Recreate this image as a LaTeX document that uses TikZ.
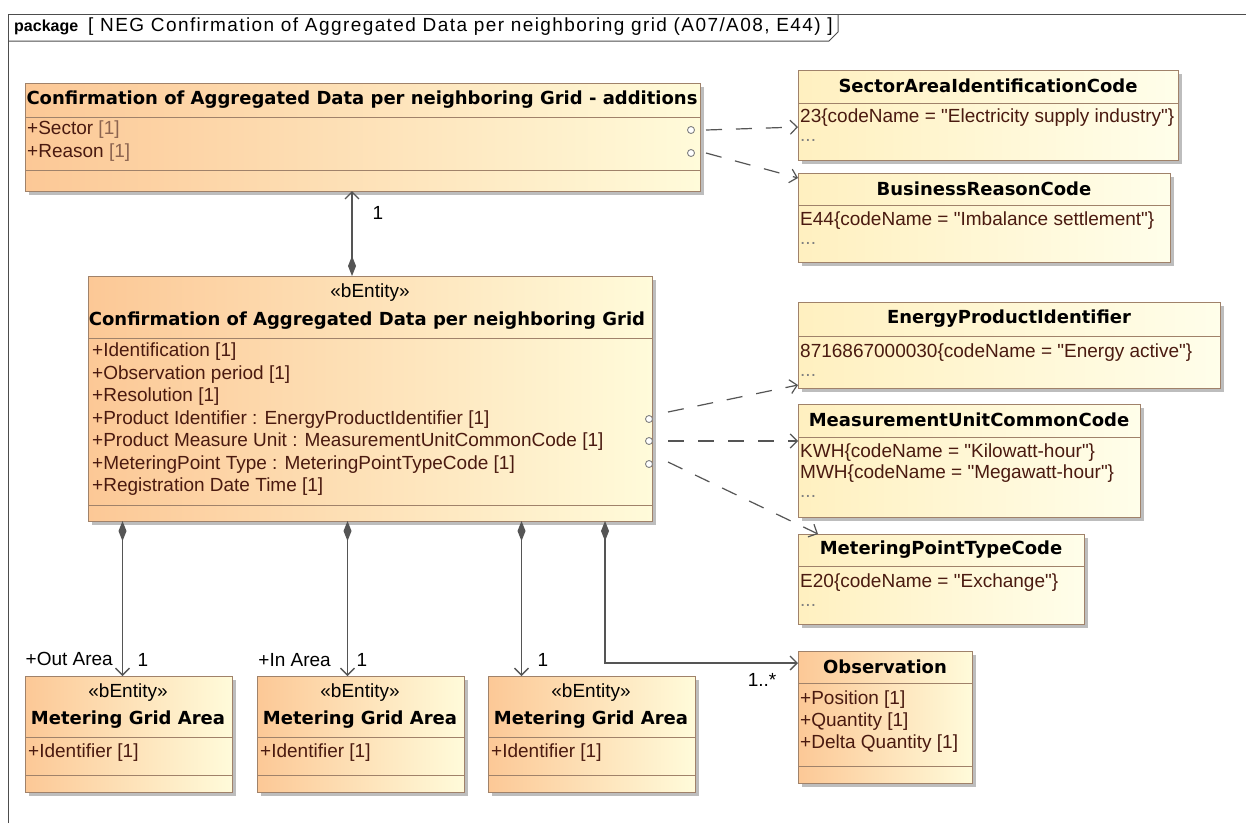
\documentclass[tikz,border=0pt]{standalone}
\usepackage{fontspec}
\setmainfont{Liberation Sans}
\newfontfamily\hdfont{DejaVu Sans}
\usetikzlibrary{arrows.meta,shadows}
\definecolor{umlBorder}{HTML}{A0826A}
\definecolor{umlOrange}{HTML}{FCC896}
\definecolor{umlCream}{HTML}{FFFBDA}
\definecolor{codeLeft}{HTML}{FFF0C0}
\definecolor{codeRight}{HTML}{FFFEEA}
\definecolor{umlText}{HTML}{4A1A10}
\definecolor{umlMult}{HTML}{8C6450}
\definecolor{umlLine}{HTML}{555555}
\definecolor{umlShadow}{HTML}{BDBDBD}
\definecolor{umlFrame}{HTML}{4D4D4D}
\newcommand{\umltitle}{\hdfont\bfseries\fontsize{18}{20}\selectfont}
\newcommand{\umltext}{\fontsize{19}{22}\selectfont}
\newcommand{\q}{\textquotedbl}

\tikzset{
  cls/.style={draw=umlBorder, line width=1pt, left color=umlOrange, right color=umlCream,
    anchor=north west, inner sep=0pt, outer sep=0pt,
    drop shadow={shadow xshift=4pt, shadow yshift=-4pt, fill=umlShadow, opacity=1}},
  enm/.style={cls, left color=codeLeft, right color=codeRight},
  sepline/.style={draw=umlBorder, line width=1pt},
  ttl/.style={inner sep=0pt, font=\umltitle},
  stereo/.style={inner sep=0pt, font=\umltext},
  attr/.style={anchor=west, inner sep=0pt, font=\umltext, text=umlText},
  lbl/.style={inner sep=0pt, font=\umltext},
  port/.style={draw=gray, line width=0.9pt, fill=white},
  comp/.style={draw=umlLine, line width=1.3pt, {Diamond[length=20pt,width=8pt]}-{Straight Barb[length=7pt,width=14pt]}},
  dep/.style={draw=umlLine, line width=1.2pt, dash pattern=on 16pt off 14pt, -{Straight Barb[length=7pt,width=14pt]}}
}

\begin{document}
\begin{tikzpicture}[x=1pt, y=-1pt]
  \useasboundingbox (0,0) rectangle (1246,823);
  \fill[white] (0,0) rectangle (1246,823);

  % package frame
  \draw[umlFrame, line width=1pt] (8,823) -- (8,14) -- (1246,14);
  \draw[umlFrame, line width=1pt] (8,41) -- (829,41) -- (838,32) -- (838,14);
  \node[anchor=west, inner sep=0pt, font=\bfseries\fontsize{16}{18}\selectfont] (pkgKw) at (14,27) {package};
  \node[anchor=west, inner sep=0pt, font=\umltext\addfontfeature{LetterSpace=7.5}] (pkgName) at (88,27) {[ NEG Confirmation of Aggregated Data per neighboring grid (A07/A08, E44) ]};

  % additions
  \node[cls, minimum width=675pt, minimum height=108pt] (add) at (25,83) {};
  \draw[sepline] (25,117) -- (700,117);
  \draw[sepline] (25,170) -- (700,170);
  \node[ttl] (addT) at (362,100) {Confirmation of Aggregated Data per neighboring Grid - additions};
  \node[attr] (addA1) at (27,130) {+Sector \textcolor{umlMult}{[1]}};
  \node[attr] (addA2) at (27,153) {+Reason \textcolor{umlMult}{[1]}};
  \draw[port] (691,130) circle (3.5pt);
  \draw[port] (691,153) circle (3.5pt);
  \coordinate (pSector) at (706,130);
  \coordinate (pReason) at (706,153);

  % code lists, top
  \node[enm, minimum width=380pt, minimum height=90pt] (sac) at (798,70) {};
  \draw[sepline] (798,103) -- (1178,103);
  \node[ttl] (sacT) at (988,86) {SectorAreaIdentificationCode};
  \node[attr] (sacV1) at (800,118) {23\{codeName = \q Electricity supply industry\q\}};
  \node[attr, text=gray] (sacV2) at (800,140) {...};

  \node[enm, minimum width=372pt, minimum height=89pt] (brc) at (798,173) {};
  \draw[sepline] (798,205) -- (1170,205);
  \node[ttl] (brcT) at (984,189) {BusinessReasonCode};
  \node[attr] (brcV1) at (800,221) {E44\{codeName = \q Imbalance settlement\q\}};
  \node[attr, text=gray] (brcV2) at (800,243) {...};

  % main class
  \node[cls, minimum width=564pt, minimum height=245pt] (main) at (88,276) {};
  \draw[sepline] (88,338) -- (652,338);
  \draw[sepline] (88,505) -- (652,505);
  \node[stereo] (mainS) at (370,293) {«bEntity»};
  \node[ttl] (mainT) at (367,321) {Confirmation of Aggregated Data per neighboring Grid};
  \foreach \t [count=\i] in {+Identification [1], +Observation period [1], +Resolution [1],
      +Product Identifier : EnergyProductIdentifier [1],
      +Product Measure Unit : MeasurementUnitCommonCode [1],
      +MeteringPoint Type : MeteringPointTypeCode [1], +Registration Date Time [1]}
    \node[attr] (mainA\i) at (92,{352+22.5*(\i-1)}) {\t};
  \foreach \y in {419,441,464}
    \draw[port] (649,\y) circle (3.5pt);
  \coordinate (pProduct) at (668,412);
  \coordinate (pUnit) at (668,441);
  \coordinate (pMpType) at (668,462);

  % code lists, middle
  \node[enm, minimum width=422pt, minimum height=86pt] (epi) at (798,302) {};
  \draw[sepline] (798,336) -- (1220,336);
  \node[ttl] (epiT) at (1009,319) {EnergyProductIdentifier};
  \node[attr] (epiV1) at (800,353) {8716867000030\{codeName = \q Energy active\q\}};
  \node[attr, text=gray] (epiV2) at (800,375) {...};

  \node[enm, minimum width=342pt, minimum height=113pt] (muc) at (798,404) {};
  \draw[sepline] (798,437) -- (1140,437);
  \node[ttl] (mucT) at (969,420) {MeasurementUnitCommonCode};
  \node[attr] (mucV1) at (800,453) {KWH\{codeName = \q Kilowatt-hour\q\}};
  \node[attr] (mucV2) at (800,474) {MWH\{codeName = \q Megawatt-hour\q\}};
  \node[attr, text=gray] (mucV3) at (800,496) {...};

  \node[enm, minimum width=286pt, minimum height=90pt] (mpt) at (798,534) {};
  \draw[sepline] (798,566) -- (1084,566);
  \node[ttl] (mptT) at (941,550) {MeteringPointTypeCode};
  \node[attr] (mptV1) at (800,583) {E20\{codeName = \q Exchange\q\}};
  \node[attr, text=gray] (mptV2) at (800,605) {...};

  % metering grid areas
  \foreach \n/\x in {mgaOut/25, mgaIn/257, mgaThird/488} {
    \node[cls, minimum width=207pt, minimum height=116pt] (\n) at (\x,676) {};
    \draw[sepline] (\x,737) -- ({\x+207},737);
    \draw[sepline] (\x,775) -- ({\x+207},775);
    \node[stereo] (\n S) at ({\x+103},693) {«bEntity»};
    \node[ttl] (\n T) at ({\x+103},720) {Metering Grid Area};
    \node[attr] (\n A) at ({\x+3},753) {+Identifier [1]};
  }

  % observation
  \node[cls, minimum width=174pt, minimum height=132pt] (obs) at (798,651) {};
  \draw[sepline] (798,683) -- (972,683);
  \draw[sepline] (798,766) -- (972,766);
  \node[ttl] (obsT) at (885,667) {Observation};
  \node[attr] (obsA1) at (800,700) {+Position [1]};
  \node[attr] (obsA2) at (800,722) {+Quantity [1]};
  \node[attr] (obsA3) at (800,744) {+Delta Quantity [1]};

  % compositions
  \draw[comp] ([xshift=264pt]main.north west) -- ([xshift=264pt]main.north west |- add.south);
  \node[lbl] (addMult) at (378,213) {1};
  \draw[comp] ([xshift=-6pt]mgaOut.north |- main.south) -- ([xshift=-6pt]mgaOut.north);
  \draw[comp] ([xshift=-13pt]mgaIn.north |- main.south) -- ([xshift=-13pt]mgaIn.north);
  \draw[comp] ([xshift=-70pt]mgaThird.north |- main.south) -- ([xshift=-70pt]mgaThird.north);
  \draw[comp] ([xshift=517pt]main.south west) |- ([yshift=54pt]obs.west);
  \node[lbl, anchor=east] (outRole) at (113,659) {+Out Area};
  \node[lbl] (outMult) at (143,660) {1};
  \node[lbl, anchor=east] (inRole) at (331,660) {+In Area};
  \node[lbl] (inMult) at (362,660) {1};
  \node[lbl] (thirdMult) at (543,660) {1};
  \node[lbl] (obsMult) at (762,680) {1..*};

  % type dependencies
  \draw[dep] (pSector) -- ([yshift=-12pt]sac.west);
  \draw[dep] (pReason) -- ([yshift=-5pt]brc.north west);
  \draw[dep] (pProduct) -- ([yshift=3pt]epi.south west);
  \draw[dep] (pUnit) -- ([yshift=-37pt]muc.north west);
  \draw[dep] (pMpType) -- ([xshift=20pt]mpt.north west);
\end{tikzpicture}
\end{document}
